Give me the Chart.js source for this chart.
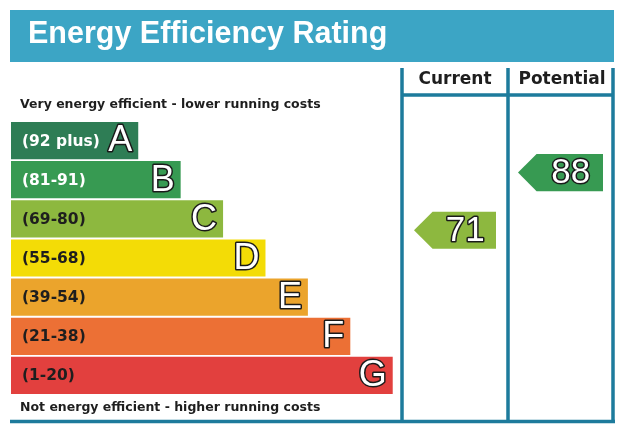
<!DOCTYPE html>
<html>
<head>
<meta charset="utf-8">
<script src="https://cdn.jsdelivr.net/npm/chart.js@4.4.1/dist/chart.umd.min.js"></script>
<style>
html, body { margin: 0; padding: 0; background: #fff; }
#wrap { width: 626px; height: 437px; position: relative; }
</style>
</head>
<body>
<div id="wrap"><canvas id="chart"></canvas></div>
<script>
// bands of the rating, top (best) to bottom (worst)
var bands = ['A', 'B', 'C', 'D', 'E', 'F', 'G'];
var ranges = ['(92 plus)', '(81-91)', '(69-80)', '(55-68)', '(39-54)', '(21-38)', '(1-20)'];
var bandMin = [92, 81, 69, 55, 39, 21, 1];
var bandMax = [100, 91, 80, 68, 54, 38, 20];
var bandLength = [3, 4, 5, 6, 7, 8, 9];
var bandColors = ['#2e7d55', '#379a52', '#8db83f', '#f3dc06', '#eba42c', '#ec7035', '#e2403e'];
var rangeTextColors = ['#ffffff', '#ffffff', '#1e1e1e', '#1e1e1e', '#1e1e1e', '#1e1e1e', '#1e1e1e'];

var columns = ['Current', 'Potential'];
var ratings = [71, 88];

var FONT = '"Liberation Sans", Arial, sans-serif';
var WIDE = '"DejaVu Sans", Verdana, sans-serif';
var LINE = '#1d7b9c';

// which band a score falls in, and where inside it (0 = top, 1 = bottom)
function bandPosition(score) {
  for (var i = 0; i < bands.length; i++) {
    if (score >= bandMin[i] && score <= bandMax[i]) {
      var f = (bandMax[i] + 0.5 - score) / (bandMax[i] - bandMin[i] + 1);
      return i - 0.5 + f;
    }
  }
  return 0;
}

function outlinedText(ctx, txt, x, y, size, align) {
  ctx.font = size + 'px ' + FONT;
  ctx.textAlign = align;
  ctx.textBaseline = 'middle';
  ctx.lineJoin = 'round';
  ctx.lineWidth = 3;
  ctx.strokeStyle = '#1a1a1a';
  ctx.strokeText(txt, x, y);
  ctx.fillStyle = '#ffffff';
  ctx.fillText(txt, x, y);
}

function arrow(ctx, x0, x1, yc, h, color, txt) {
  var tip = h * 0.5;
  ctx.fillStyle = color;
  ctx.beginPath();
  ctx.moveTo(x0, yc);
  ctx.lineTo(x0 + tip, yc - h / 2);
  ctx.lineTo(x1, yc - h / 2);
  ctx.lineTo(x1, yc + h / 2);
  ctx.lineTo(x0 + tip, yc + h / 2);
  ctx.closePath();
  ctx.fill();
  outlinedText(ctx, txt, (x0 + tip + x1) / 2 + 1, yc + 1, 35, 'center');
}

var frame = {
  id: 'frame',
  beforeDraw: function (chart) {
    var ctx = chart.ctx;
    ctx.save();
    ctx.fillStyle = '#ffffff';
    ctx.fillRect(0, 0, chart.width, chart.height);

    // title banner
    ctx.fillStyle = '#3ca5c5';
    ctx.fillRect(10, 10, 604, 52);
    ctx.fillStyle = '#ffffff';
    ctx.font = 'bold 30.5px ' + FONT;
    ctx.textAlign = 'left';
    ctx.textBaseline = 'middle';
    ctx.fillText('Energy Efficiency Rating', 28, 35);

    // column frame
    ctx.strokeStyle = LINE;
    ctx.lineWidth = 3.5;
    ctx.beginPath();
    [402, 508, 613].forEach(function (x) {
      ctx.moveTo(x, 68);
      ctx.lineTo(x, 423);
    });
    ctx.moveTo(402, 95);
    ctx.lineTo(613, 95);
    ctx.moveTo(10, 421.5);
    ctx.lineTo(615, 421.5);
    ctx.stroke();

    ctx.fillStyle = '#1e1e1e';
    ctx.font = 'bold 17px ' + WIDE;
    ctx.textAlign = 'center';
    ctx.fillText(columns[0], 455, 80);
    ctx.fillText(columns[1], 562, 80);

    ctx.font = 'bold 12.5px ' + WIDE;
    ctx.textAlign = 'left';
    ctx.fillText('Very energy efficient - lower running costs', 20, 105);
    ctx.fillText('Not energy efficient - higher running costs', 20, 408);
    ctx.restore();
  },
  afterDatasetsDraw: function (chart) {
    var ctx = chart.ctx;
    var meta = chart.getDatasetMeta(0);
    var yScale = chart.scales.y;
    ctx.save();
    meta.data.forEach(function (bar, i) {
      ctx.fillStyle = rangeTextColors[i];
      ctx.font = 'bold 15.5px ' + WIDE;
      ctx.textAlign = 'left';
      ctx.textBaseline = 'middle';
      ctx.fillText(ranges[i], bar.base + 11, bar.y + 1);
      outlinedText(ctx, bands[i], bar.x - 6, bar.y + 1, 36, 'right');
    });

    var h = meta.data[0].height;
    var cols = [[414, 496], [518, 603]];
    ratings.forEach(function (r, k) {
      var pos = bandPosition(r);
      var idx = Math.round(pos);
      var yc = yScale.getPixelForValue(pos);
      arrow(ctx, cols[k][0], cols[k][1], yc, h, bandColors[idx], String(r));
    });
    ctx.restore();
  }
};

var ctx = document.getElementById('chart').getContext('2d');
new Chart(ctx, {
  type: 'bar',
  data: {
    labels: bands,
    datasets: [{
      label: 'Rating band',
      data: bandLength,
      backgroundColor: bandColors,
      borderWidth: 0,
      barPercentage: 0.95,
      categoryPercentage: 1
    }]
  },
  options: {
    indexAxis: 'y',
    responsive: true,
    maintainAspectRatio: false,
    animation: false,
    layout: { padding: { left: 11, right: 14, top: 121, bottom: 42 } },
    plugins: { legend: { display: false }, tooltip: { enabled: false } },
    scales: {
      x: { display: false, min: 0, max: 14.17 },
      y: { display: false }
    }
  },
  plugins: [frame]
});
</script>
</body>
</html>
